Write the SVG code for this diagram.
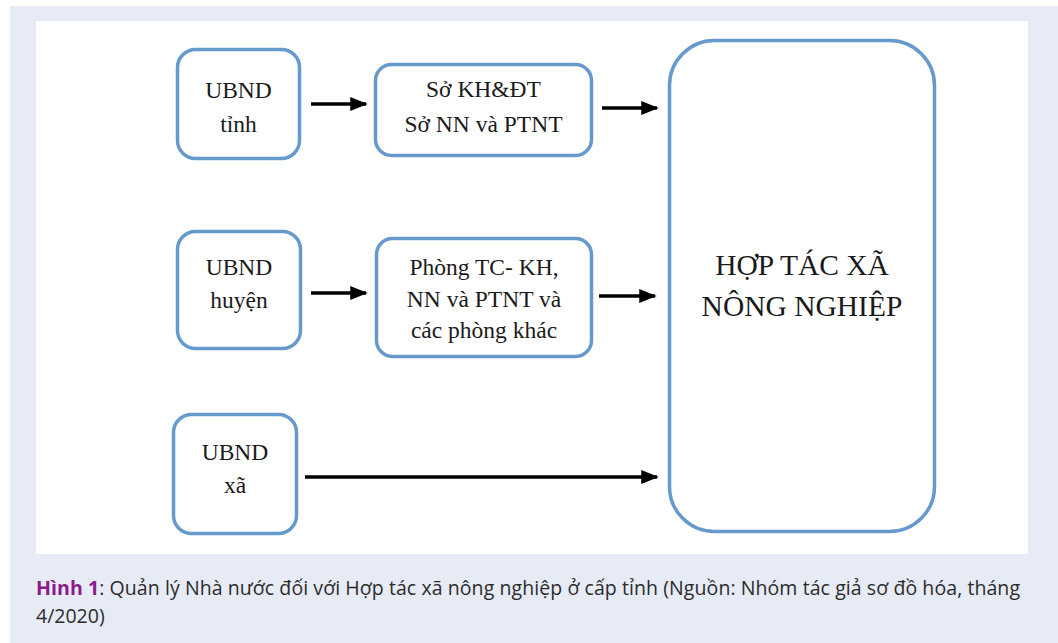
<svg xmlns="http://www.w3.org/2000/svg" width="1058" height="643" viewBox="0 0 1058 643">
<style>
.box{fill:#fff;stroke:#6699cc;stroke-width:3.5}
.t{font-family:"Liberation Serif","Times New Roman",serif;font-size:23.5px;fill:#1a1a1a;text-anchor:middle}
.big{font-family:"Liberation Serif","Times New Roman",serif;font-size:29.5px;fill:#1a1a1a;text-anchor:middle}
.cap{font-family:"Open Sans","Noto Sans",sans-serif;font-size:19.5px;fill:#2b2b2b}
.conn{stroke:#000;stroke-width:3.5;fill:none;marker-end:url(#ah)}
</style>
<defs>
<marker id="ah" markerWidth="5" markerHeight="4" refX="4.5" refY="2" orient="auto" markerUnits="strokeWidth">
<path d="M0,0 L5,2 L0,4 Z" fill="#000"/>
</marker>
</defs>
<rect x="0" y="0" width="1058" height="643" fill="#fff"/>
<rect x="10" y="6" width="1048" height="637" fill="#e7ebf6"/>
<rect x="36" y="21" width="992" height="533" fill="#fff"/>

<g id="connectors">
<line class="conn" x1="311" y1="104" x2="366" y2="104"/>
<line class="conn" x1="602" y1="108" x2="657" y2="108"/>
<line class="conn" x1="311" y1="293" x2="366" y2="293"/>
<line class="conn" x1="599" y1="296" x2="655" y2="296"/>
<line class="conn" x1="305" y1="477" x2="657" y2="477"/>
</g>

<g id="ubnd-tinh">
<rect class="box" x="177.5" y="49.5" width="122" height="109" rx="18"/>
<text class="t" x="238.5" y="98">UBND</text>
<text class="t" x="238.5" y="132">tỉnh</text>
</g>
<g id="so">
<rect class="box" x="375.5" y="64.5" width="216" height="91" rx="16"/>
<text class="t" x="483.5" y="97">Sở KH&amp;ĐT</text>
<text class="t" x="483.5" y="132">Sở NN và PTNT</text>
</g>
<g id="ubnd-huyen">
<rect class="box" x="177.5" y="231.5" width="123" height="117" rx="18"/>
<text class="t" x="239" y="275">UBND</text>
<text class="t" x="239" y="308">huyện</text>
</g>
<g id="phong">
<rect class="box" x="376.5" y="238.5" width="215" height="118" rx="16"/>
<text class="t" x="484" y="275">Phòng TC- KH,</text>
<text class="t" x="484" y="307">NN và PTNT và</text>
<text class="t" x="484" y="338">các phòng khác</text>
</g>
<g id="ubnd-xa">
<rect class="box" x="173.5" y="414.5" width="123" height="119" rx="18"/>
<text class="t" x="235" y="460">UBND</text>
<text class="t" x="235" y="493">xã</text>
</g>
<g id="htx">
<rect class="box" x="669.5" y="40.5" width="265" height="491" rx="45"/>
<text class="big" x="802" y="275">HỢP TÁC XÃ</text>
<text class="big" x="802" y="316">NÔNG NGHIỆP</text>
</g>

<g id="caption">
<text class="cap" x="36" y="595" textLength="984" lengthAdjust="spacing"><tspan font-weight="bold" fill="#8b1a8b">Hình 1</tspan>: Quản lý Nhà nước đối với Hợp tác xã nông nghiệp ở cấp tỉnh (Nguồn: Nhóm tác giả sơ đồ hóa, tháng</text>
<text class="cap" x="36" y="623">4/2020)</text>
</g>
</svg>
